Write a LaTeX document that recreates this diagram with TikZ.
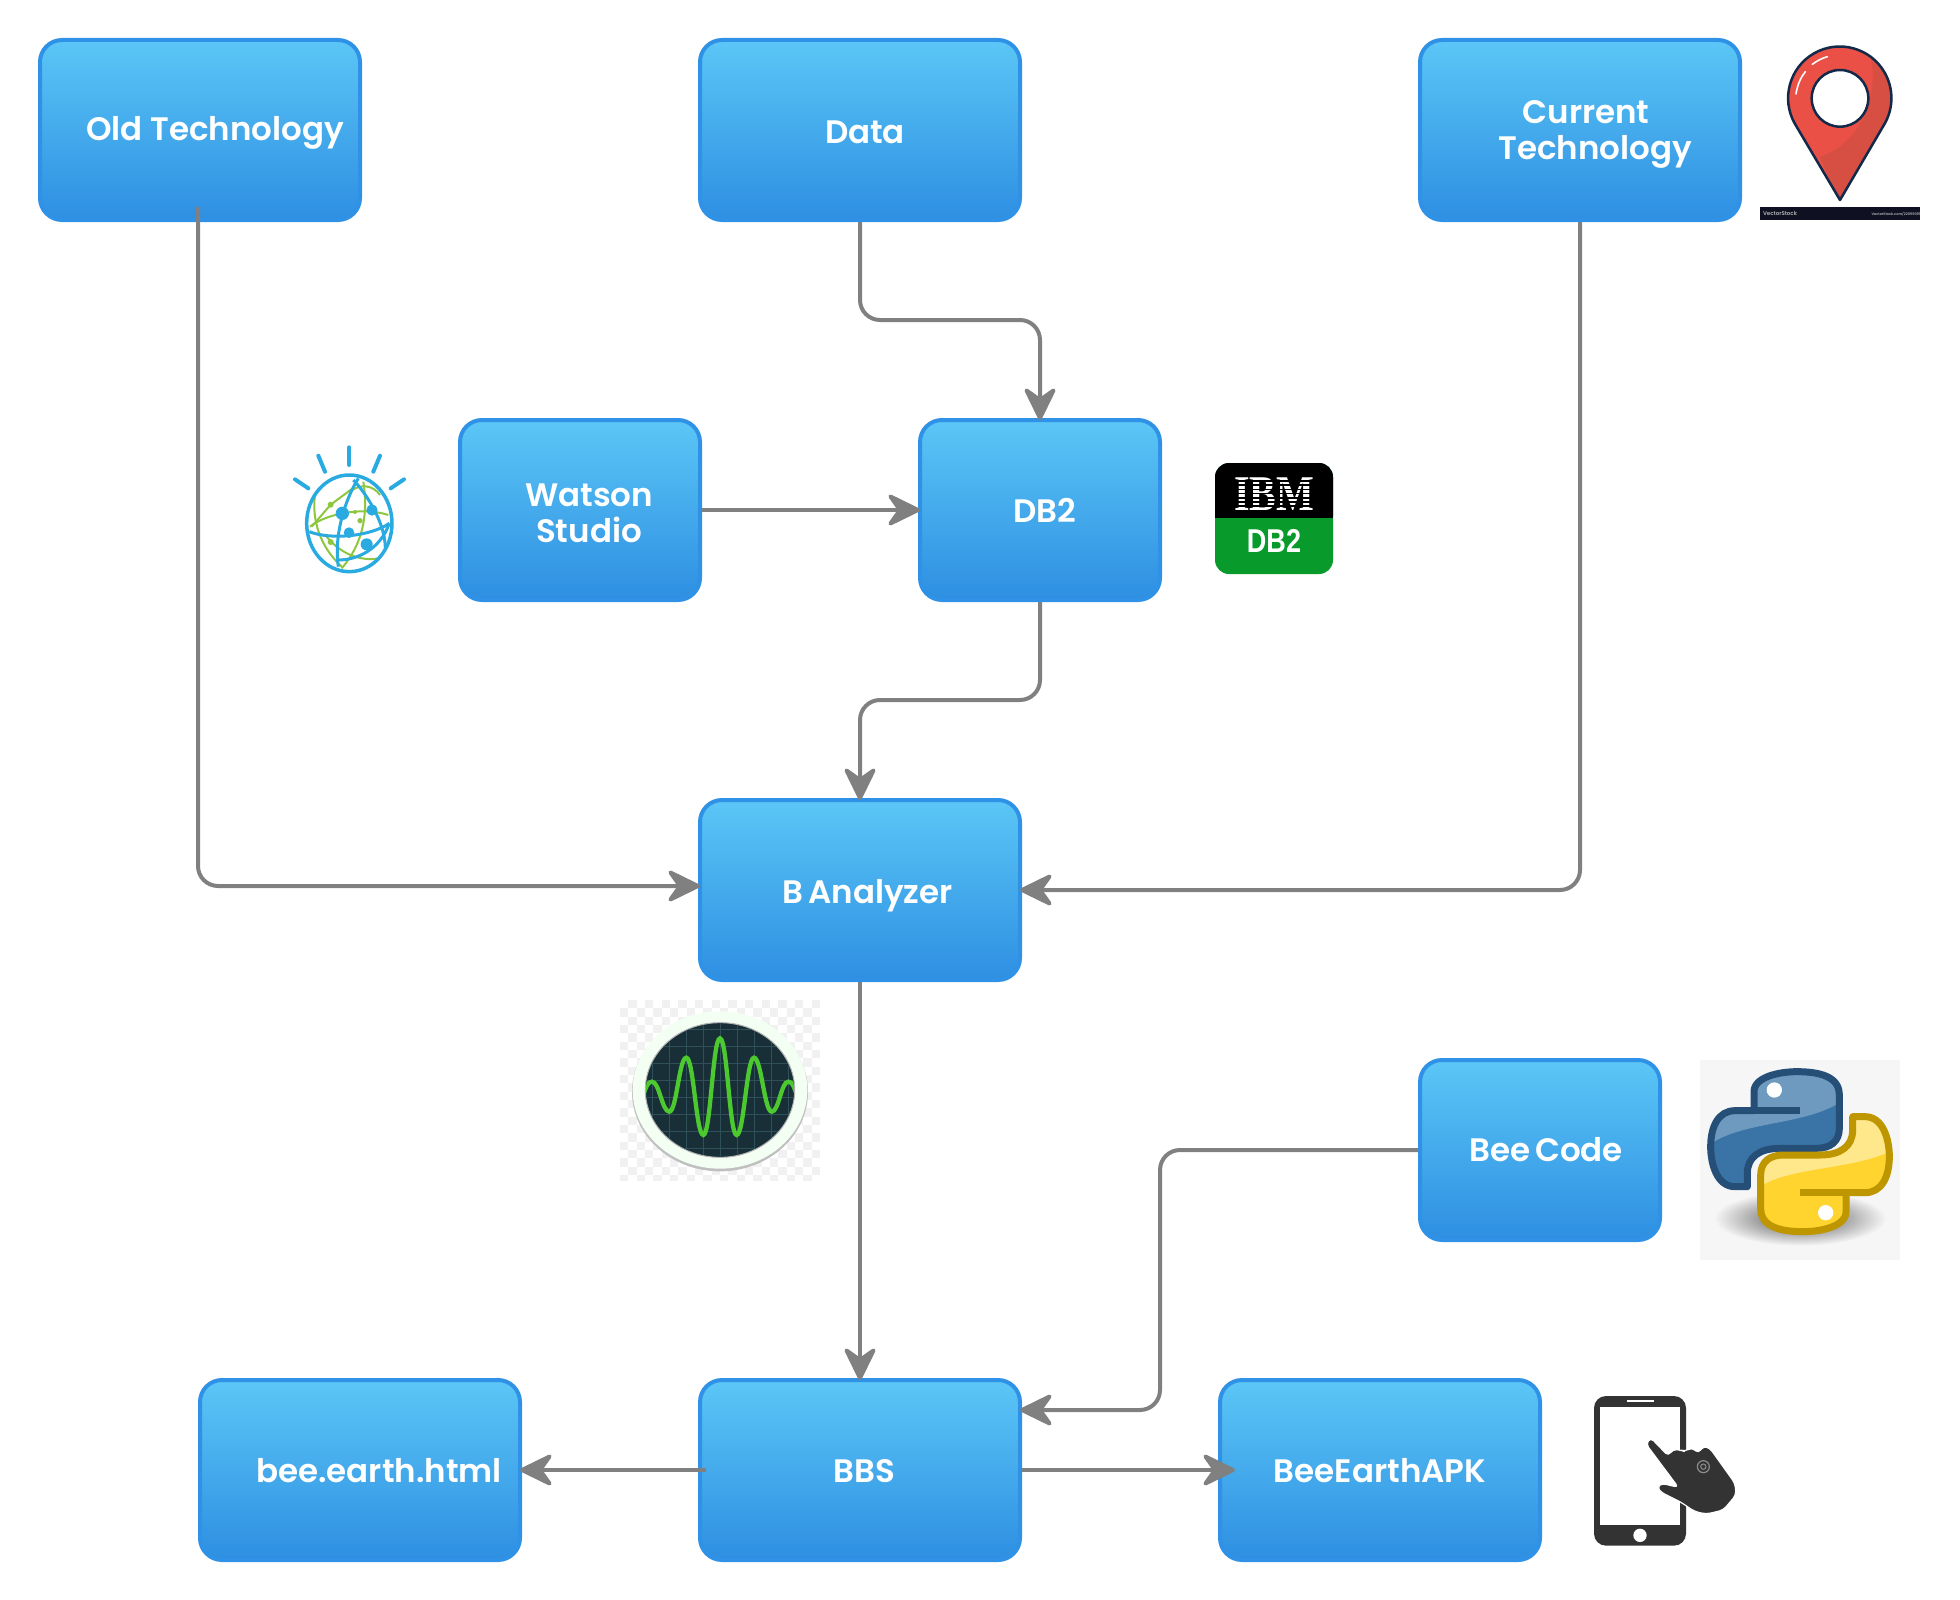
\documentclass[tikz,border=0pt]{standalone}
\usepackage{fontspec}
\setmainfont{Poppins}[UprightFont=* SemiBold]
\newfontfamily\sansbold{Liberation Sans Bold}
\newfontfamily\serifbold{Liberation Serif Bold}
\usetikzlibrary{calc,positioning,arrows.meta,shapes.geometric}
\definecolor{boxtop}{HTML}{5BC6F6}
\definecolor{boxbottom}{HTML}{2E8FE2}
\definecolor{boxline}{HTML}{2F92E6}
\definecolor{edgegray}{HTML}{808080}
\definecolor{pinred}{HTML}{EA5045}
\definecolor{pindark}{HTML}{D64F42}
\definecolor{pinline}{HTML}{12294A}
\definecolor{barink}{HTML}{101023}
\definecolor{watsonblue}{HTML}{29ABE2}
\definecolor{watsongreen}{HTML}{8DC63F}
\definecolor{dbgreen}{HTML}{089B2C}
\definecolor{scopedark}{HTML}{182F38}
\definecolor{scopegrid}{HTML}{2F5058}
\definecolor{scopewave}{HTML}{4CC92F}
\definecolor{checkgray}{HTML}{F1F1F1}
\definecolor{pyback}{HTML}{F6F6F6}
\definecolor{pyblue}{HTML}{3A74A6}
\definecolor{pybluelight}{HTML}{6E9AC0}
\definecolor{pybluedark}{HTML}{264F78}
\definecolor{pyyellow}{HTML}{FFD42F}
\definecolor{pyyellowlight}{HTML}{FFE88C}
\definecolor{pyyellowdark}{HTML}{BE9600}
\definecolor{phonegray}{HTML}{333333}
\newcommand{\snakeoutline}{(222,212) -- (222,155) .. controls (222,110) and (300,95) .. (350,95) .. controls (420,95) and (478,110) .. (478,165) -- (478,265) .. controls (478,305) and (450,325) .. (410,325) -- (300,325) .. controls (240,325) and (202,350) .. (202,400) -- (202,440) -- (165,440) .. controls (110,440) and (92,370) .. (92,320) .. controls (92,260) and (115,212) .. (165,212) -- cycle}
\newcommand{\snakeyellow}{(498,458) -- (498,515) .. controls (498,560) and (420,575) .. (370,575) .. controls (300,575) and (242,560) .. (242,505) -- (242,405) .. controls (242,365) and (270,345) .. (310,345) -- (420,345) .. controls (480,345) and (518,320) .. (518,270) -- (518,230) -- (555,230) .. controls (610,230) and (628,300) .. (628,350) .. controls (628,410) and (605,458) .. (555,458) -- cycle}
\begin{document}
\begin{tikzpicture}[
    x=1pt,y=-1pt,
    bluebox/.style={
        draw=boxline,
        line width=4pt,
        rounded corners=22pt,
        top color=boxtop,
        bottom color=boxbottom,
        minimum height=180pt,
        inner sep=0pt,
        align=center,
        text=white,
        font=\fontsize{32.5}{36}\selectfont,
    },
    widebox/.style={bluebox,minimum width=320pt},
    narrowbox/.style={bluebox,minimum width=240pt},
    oneline/.style={text height=#1,text depth=0pt},
    oneline/.default=26pt,
    connector/.style={
        draw=edgegray,
        line width=4pt,
        rounded corners=20pt,
        -{Stealth[length=38pt,width=37pt,inset=13pt,round,sep=-2pt]},
    },
  ]
  \useasboundingbox (0,0) rectangle (1960,1600);

  \node [widebox,oneline=22pt] (oldtech) at (200,130) {\hspace*{30pt}Old Technology};
  \node [widebox,oneline] (data) at (860,130) {\hspace*{10pt}Data};
  \node [widebox] (current) at (1580,130) {\rule{0pt}{31pt}\hspace*{12pt}Current\\\hspace*{30pt}Technology};
  \node [narrowbox] (watson) at (580,510) {\rule{0pt}{30pt}\hspace*{18pt}Watson\\\hspace*{18pt}Studio};
  \node [narrowbox,oneline=25pt] (db2) at (1040,510) {\hspace*{10pt}DB2};
  \node [widebox,oneline] (banalyzer) at (860,890) {\spaceskip=5pt\hspace*{15pt}B Analyzer};
  \node [narrowbox,oneline=22pt] (beecode) at (1540,1150) {\spaceskip=5pt\hspace*{12pt}Bee Code};
  \node [widebox,oneline=25pt] (bbs) at (860,1470) {\hspace*{8pt}BBS};
  \node [widebox,oneline=25pt] (beehtml) at (360,1470) {\hspace*{38pt}bee.earth.html};
  \node [widebox,oneline=25pt] (beeapk) at (1380,1470) {BeeEarthAPK};

  \coordinate (oldout) at (198,207);
  \draw [connector] (oldout) |- ([yshift=4pt]banalyzer.west);
  \draw [connector] (data.south) -- ++(0,98) -| (db2.north);
  \draw [connector] (watson.east) -- (db2.west);
  \draw [connector] (db2.south) -- ++(0,98) -| (banalyzer.north);
  \draw [connector] (current.south) |- (banalyzer.east);
  \draw [connector] (banalyzer.south) -- (bbs.north);
  \draw [connector] (beecode.west) -| ($(bbs.east)+(138,-60)$) -- ([yshift=60pt]bbs.east);
  \draw [connector] ([xshift=8pt]bbs.west) -- (beehtml.east);
  \draw [connector] (bbs.east) -- ([xshift=15pt]beeapk.west);

  % map pin
  \begin{scope}[shift={(1700,20)},scale=1/3]
    \fill [barink] (180,560) rectangle (660,600);
    \node [text=white!70!black,font=\fontsize{5.5}{7}\selectfont] (pinmark) at (240,580) {VectorStock};
    \node [text=white!70!black,font=\fontsize{3.5}{4}\selectfont] (pinurl) at (588,582) {VectorStock.com/22059015};
    \begin{scope}
      \clip (420,540) -- (285,312) arc [start angle=150,end angle=390,radius=155] -- cycle;
      \fill [pinred] (250,70) rectangle (590,550);
      \fill [pindark] (510,100) .. controls (540,210) and (490,370) .. (360,410) -- (420,560) -- (600,300) -- (600,100) -- cycle;
    \end{scope}
    \draw [pinline,line width=2.5pt,line join=round] (420,540) -- (285,312) arc [start angle=150,end angle=390,radius=155] -- cycle;
    \draw [pinline,line width=2.5pt,fill=white] (420,235) circle [radius=85];
    \draw [white,line width=1.6pt,line cap=round] (288,222) .. controls (292,195) and (302,172) .. (316,155);
    \draw [white,line width=1.6pt,line cap=round] (337,133) .. controls (350,123) and (365,115) .. (382,110);
  \end{scope}

  % watson globe
  \begin{scope}[shift={(270,420)},scale=1/3]
    \foreach \xa/\ya/\xb/\yb in {238/82/238/135,145/107/165/155,330/107/310/155,75/178/115/205,402/178/362/205}
      \draw [watsonblue,line width=4pt,line cap=round] (\xa,\ya) -- (\xb,\yb);
    \begin{scope}
      \clip (238,310) ellipse [x radius=128,y radius=145];
      \begin{scope}[watsongreen,line width=2pt]
        \draw (135,225) .. controls (125,300) and (150,380) .. (215,440);
        \draw (240,215) .. controls (270,190) and (310,195) .. (330,225);
        \draw (120,320) .. controls (170,280) and (280,260) .. (355,285);
        \draw (280,185) .. controls (295,280) and (280,370) .. (215,445);
        \draw (125,320) -- (182,254) -- (255,200);
        \draw (170,350) .. controls (210,400) and (270,425) .. (325,415);
        \foreach \cx/\cy/\cr in {182/254/9,255/276/6,270/302/8,182/366/9}
          \fill (\cx,\cy) circle [radius=\cr];
      \end{scope}
      \begin{scope}[watsonblue,line width=3pt]
        \draw (118,335) .. controls (180,360) and (300,350) .. (358,310);
        \draw (265,175) .. controls (230,230) and (190,340) .. (205,440);
        \draw (250,180) .. controls (280,210) and (370,330) .. (340,430);
        \draw (205,420) .. controls (260,420) and (330,390) .. (358,310);
        \foreach \cx/\cy/\cr in {217/280/20,306/270/17,237/338/16,290/373/18}
          \fill (\cx,\cy) circle [radius=\cr];
      \end{scope}
    \end{scope}
    \draw [watsonblue,line width=3.5pt] (238,310) ellipse [x radius=128,y radius=145];
  \end{scope}

  % db2 badge
  \fill [dbgreen,rounded corners=14pt] (1215,463) rectangle (1333,574);
  \fill [black,rounded corners=14pt] (1215,463) rectangle (1333,530);
  \fill [dbgreen] (1215,518) rectangle (1333,535);
  \node [text=white,font=\serifbold\fontsize{50}{50}\selectfont,xscale=.8] (ibmtext) at (1274,494) {IBM};
  \foreach \ys in {0,...,7}
    \draw [black,line width=1.6pt] (1232,{481+\ys*4.2}) -- (1316,{481+\ys*4.2});
  \node [text=white,font=\sansbold\fontsize{33}{33}\selectfont,xscale=.82] (dbtext) at (1274,541) {DB2};

  % activity monitor
  \begin{scope}[shift={(600,980)},scale=1/3]
    \begin{scope}
      \clip (60,60) rectangle (660,600);
      \foreach \i in {0,...,23}
        \foreach \j in {0,...,21} {
          \ifodd\numexpr\i+\j\relax
            \fill [checkgray] ({60+25*\i},{60+25*\j}) rectangle ++(25,25);
          \fi
        }
    \end{scope}
    \fill [black!25] (360,336) ellipse [x radius=264,y radius=238];
    \fill [white!95!green] (360,330) ellipse [x radius=262,y radius=236];
    \draw [black!30,fill=scopedark,line width=1pt] (360,330) ellipse [x radius=224,y radius=202];
    \begin{scope}
      \clip (360,330) ellipse [x radius=222,y radius=200];
      \foreach \gx in {0,...,8}
        \draw [scopegrid,line width=.8pt] ({156+51*\gx},100) -- ({156+51*\gx},560);
      \foreach \gy in {0,...,7}
        \draw [scopegrid,line width=.8pt] (100,{147+51*\gy}) -- (620,{147+51*\gy});
      \draw [scopewave,line width=4.3pt] (130,345) .. controls +(8,-25) and +(-12,0) .. (156,305)
        .. controls +(22,0) and +(-22,0) .. (208,395)
        .. controls +(22,0) and +(-22,0) .. (259,233)
        .. controls +(22,0) and +(-22,0) .. (310,465)
        .. controls +(22,0) and +(-22,0) .. (360,175)
        .. controls +(22,0) and +(-22,0) .. (410,465)
        .. controls +(22,0) and +(-22,0) .. (462,233)
        .. controls +(22,0) and +(-22,0) .. (515,395)
        .. controls +(22,0) and +(-22,0) .. (565,305)
        .. controls +(12,0) and +(-8,-25) .. (590,345);
    \end{scope}
  \end{scope}

  % python logo
  \begin{scope}[shift={(1680,1040)},scale=1/3]
    \fill [pyback] (60,60) rectangle (660,660);
    \shade [inner color=black!70,outer color=pyback] (360,535) ellipse [x radius=258,y radius=82];
    \begin{scope}
      \clip \snakeoutline;
      \fill [pyblue] (80,80) rectangle (490,450);
      \fill [pybluelight] (80,320) .. controls (180,240) and (380,260) .. (490,180) -- (490,80) -- (80,80) -- cycle;
    \end{scope}
    \draw [pybluedark,line width=7pt,line join=round] \snakeoutline;
    \draw [pybluedark,line width=7pt] (222,212) -- (360,212);
    \fill [white] (283,150) circle [radius=23];
    \begin{scope}
      \clip \snakeyellow;
      \fill [pyyellow] (230,220) rectangle (640,590);
      \fill [pyyellowlight] (240,440) .. controls (330,380) and (520,390) .. (640,330) -- (640,220) -- (230,220) -- cycle;
    \end{scope}
    \draw [pyyellowdark,line width=7pt,line join=round] \snakeyellow;
    \draw [pyyellowdark,line width=7pt] (498,458) -- (360,458);
    \fill [white] (437,518) circle [radius=23];
  \end{scope}

  % phone and hand
  \begin{scope}[shift={(1560,1370)},scale=1/3]
    \fill [phonegray,rounded corners=12pt] (102,78) rectangle (378,527);
    \fill [white] (120,112) rectangle (360,465);
    \fill [white] (200,90) rectangle (282,96);
    \fill [white] (240,496) circle [radius=20];
    \draw [phonegray,fill=phonegray,draw=white,line width=1.2pt,line join=round,rounded corners=4pt]
      (258,222) -- (272,203) -- (325,258) -- (338,238) -- (362,240) -- (375,245) -- (395,232) -- (415,250) -- (430,228) -- (450,235)
      -- (525,340) -- (528,375) -- (490,420) -- (440,432) -- (405,425) -- (360,395) -- (300,365) -- (292,350) -- (305,340) -- (355,352) -- cycle;
    \draw [black!45,line width=1.2pt] (430,290) circle [radius=18];
    \draw [black!45,line width=1pt] (430,290) circle [radius=8];
  \end{scope}
\end{tikzpicture}
\end{document}
